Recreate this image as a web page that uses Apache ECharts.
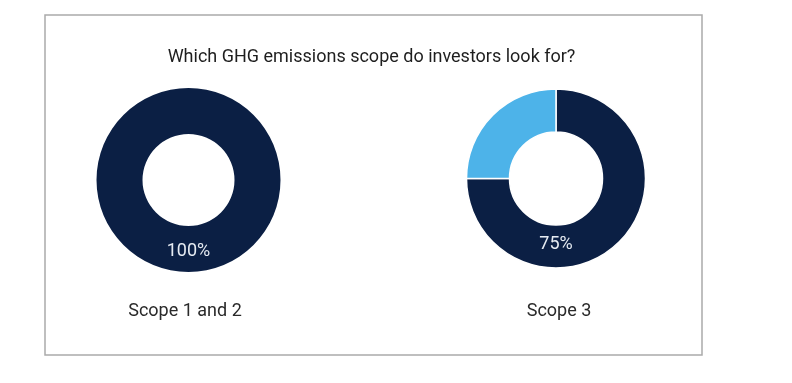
<!DOCTYPE html>
<html>
<head>
<meta charset="utf-8">
<script src="https://cdn.jsdelivr.net/npm/echarts@6/dist/echarts.min.js"></script>
<style>
html,body{margin:0;padding:0;background:#fff;}
#chart{width:792px;height:383px;}
</style>
</head>
<body>
<div id="chart"></div>
<script>
// ---- data ----
const chartTitle = 'Which GHG emissions scope do investors look for?';
const categories = ['Scope 1 and 2', 'Scope 3'];
const lookForShare = [100, 75];   // % of investors looking for this scope
const otherShare = [0, 25];       // remaining share
const percentLabels = ['100%', '75%'];

// ---- layout / style ----
const DARK = '#0b1f44';
const LIGHT = '#4db3e9';
const centers = [[188.5, 180], [556, 178.5]];
const radii = [[46, 92], [46.5, 89.5]];
const pctY = [251, 244];
const catY = 311;
const catX = [185, 559];

const chart = echarts.init(document.getElementById('chart'), null, {renderer: 'canvas'});

const series = categories.map((c, i) => {
  const data = [];
  if (lookForShare[i] > 0) data.push({name: c, value: lookForShare[i], itemStyle: {color: DARK}});
  if (otherShare[i] > 0) data.push({name: 'Other', value: otherShare[i], itemStyle: {color: LIGHT}});
  return {
    type: 'pie',
    center: centers[i],
    radius: radii[i],
    startAngle: 90,
    clockwise: true,
    silent: true,
    animation: false,
    label: {show: false},
    labelLine: {show: false},
    itemStyle: {borderColor: '#ffffff', borderWidth: data.length > 1 ? 1.5 : 0},
    data: data
  };
});

const graphics = [
  {type: 'rect', shape: {x: 45, y: 15, width: 657, height: 340},
   style: {fill: 'none', stroke: '#ababab', lineWidth: 1.5}, z: 0},
  {type: 'text', x: 371.5, y: 57,
   style: {text: chartTitle, fill: '#1e1e1e', font: '18px Roboto', textAlign: 'center', textVerticalAlign: 'middle'}, z: 10}
];
categories.forEach((c, i) => {
  graphics.push({type: 'text', x: catX[i], y: catY,
    style: {text: c, fill: '#2a2a2a', font: '18px Roboto', textAlign: 'center', textVerticalAlign: 'middle'}, z: 10});
  graphics.push({type: 'text', x: centers[i][0], y: pctY[i],
    style: {text: percentLabels[i], fill: '#e6ebf2', font: '18px Roboto', textAlign: 'center', textVerticalAlign: 'middle'}, z: 10});
});

chart.setOption({
  backgroundColor: '#ffffff',
  animation: false,
  series: series,
  graphic: graphics
});
</script>
</body>
</html>
